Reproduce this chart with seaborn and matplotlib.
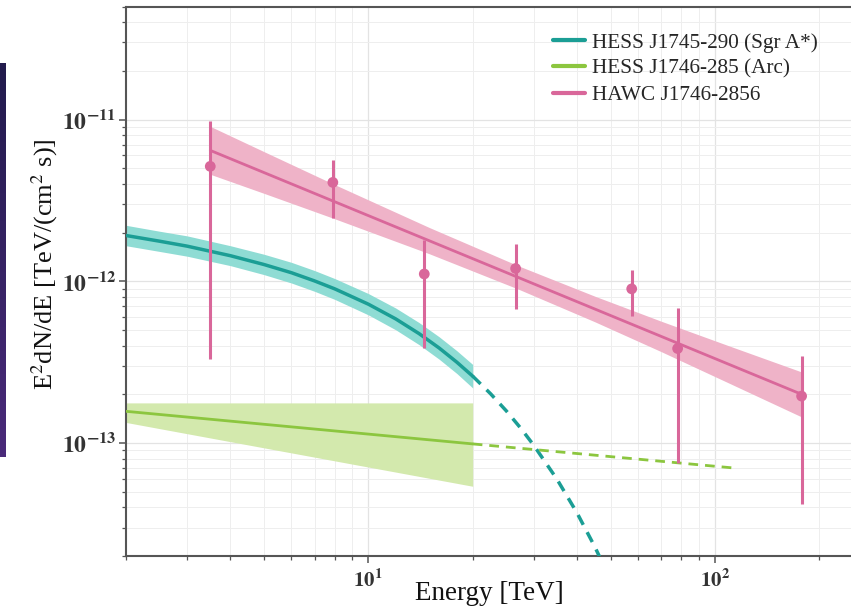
import numpy as np
import pandas as pd
import matplotlib
matplotlib.use("Agg")
import matplotlib.pyplot as plt
import seaborn as sns
from matplotlib.lines import Line2D
from matplotlib.ticker import FixedLocator, FuncFormatter, NullFormatter
from matplotlib.colors import LinearSegmentedColormap

# ---------------- data ----------------
# HAWC J1746-2856 flux points
hawc_E = [3.5, 7.9, 14.5, 26.6, 57.5, 78.0, 177.7]
hawc_F = [5.14e-12, 4.09e-12, 1.11e-12, 1.20e-12, 8.98e-13, 3.84e-13, 1.95e-13]
hawc_hi = [9.8e-12, 5.66e-12, 1.81e-12, 1.69e-12, 1.18e-12, 6.8e-13, 3.47e-13]
hawc_lo = [3.31e-13, 2.47e-12, 3.87e-13, 6.75e-13, 6.14e-13, 7.53e-14, 4.2e-14]

# HAWC power-law fit and band
hawc_fit_E = [3.5, 177.7]
hawc_fit_F = [6.45e-12, 2.0e-13]
hawc_band_E = [3.5, 5, 7.9, 15, 27, 45, 70, 110, 177.7]
hawc_band_up = [9.08e-12, 6.34e-12, 4.01e-12, 2.15e-12, 1.25e-12, 8.09e-13, 5.66e-13, 3.98e-13, 2.75e-13]
hawc_band_lo = [4.59e-12, 3.50e-12, 2.46e-12, 1.48e-12, 8.97e-13, 5.62e-13, 3.67e-13, 2.34e-13, 1.45e-13]

# HESS J1745-290 (Sgr A*) curve and band
sgr_E = [2, 2.5, 3, 4, 5, 6, 7, 8, 10, 12, 14, 16, 18, 20]
sgr_F = [1.92e-12, 1.77e-12, 1.65e-12, 1.44e-12, 1.27e-12, 1.13e-12, 1.005e-12, 8.98e-13,
         7.22e-13, 5.85e-13, 4.75e-13, 3.87e-13, 3.16e-13, 2.59e-13]
sgr_up = [2.22e-12, 2.04e-12, 1.91e-12, 1.66e-12, 1.47e-12, 1.31e-12, 1.165e-12, 1.04e-12,
          8.40e-13, 6.83e-13, 5.56e-13, 4.54e-13, 3.72e-13, 3.06e-13]
sgr_lo = [1.66e-12, 1.53e-12, 1.43e-12, 1.25e-12, 1.10e-12, 9.76e-13, 8.67e-13, 7.73e-13,
          6.20e-13, 5.01e-13, 4.06e-13, 3.30e-13, 2.69e-13, 2.19e-13]
sgr_ext_E = [20, 22.5, 25, 27.5, 30, 35, 40, 45, 50]
sgr_ext_F = [2.59e-13, 2.02e-13, 1.58e-13, 1.236e-13, 9.68e-14, 5.97e-14, 3.69e-14, 2.28e-14, 1.42e-14]

# HESS J1746-285 (Arc)
arc_E = [2, 20]
arc_F = [1.57e-13, 9.87e-14]
arc_up = [1.77e-13, 1.77e-13]
arc_lo = [1.34e-13, 5.4e-14]
arc_ext_E = [20, 113.6]
arc_ext_F = [9.87e-14, 7.0e-14]

labels = ["HESS J1745-290 (Sgr A*)", "HESS J1746-285 (Arc)", "HAWC J1746-2856"]
x_major = [10, 100]
y_major = [1e-13, 1e-12, 1e-11]

# ---------------- style ----------------
teal_line = "#1b9e95"
teal_band = "#8fdcd4"
green_line = "#8cc63f"
green_band = "#d3e9ad"
pink_line = "#d9679a"
pink_band = "#efb3c8"
spine_c = "#555555"

sns.set_theme(style="white")
plt.rcParams["font.family"] = ["Liberation Serif", "DejaVu Serif"]
plt.rcParams["mathtext.fontset"] = "stix"

W, H = 851, 607
fig = plt.figure(figsize=(W / 100, H / 100), dpi=100)
ax_l, ax_r, ax_t, ax_b = 126, 853, 6.6, 556
ax = fig.add_axes([ax_l / W, (H - ax_b) / H, (ax_r - ax_l) / W, (ax_b - ax_t) / H])
ax.set_xscale("log")
ax.set_yscale("log")

# bands
ax.fill_between(sgr_E, sgr_lo, sgr_up, color=teal_band, lw=0, zorder=2)
ax.fill_between(arc_E, arc_lo, arc_up, color=green_band, lw=0, zorder=2)
ax.fill_between(hawc_band_E, hawc_band_lo, hawc_band_up, color=pink_band, lw=0, zorder=2)

# lines
sns.lineplot(x=sgr_E, y=sgr_F, color=teal_line, lw=2.5, ax=ax, zorder=3)
sns.lineplot(x=sgr_ext_E, y=sgr_ext_F, color=teal_line, lw=2.5, ax=ax, zorder=3,
             linestyle=(0, (3.2, 2.4)))
sns.lineplot(x=arc_E, y=arc_F, color=green_line, lw=2.0, ax=ax, zorder=3)
sns.lineplot(x=arc_ext_E, y=arc_ext_F, color=green_line, lw=2.0, ax=ax, zorder=3,
             linestyle=(0, (3.5, 2.5)))
sns.lineplot(x=hawc_fit_E, y=hawc_fit_F, color=pink_line, lw=2.0, ax=ax, zorder=4)

# HAWC points
F = np.array(hawc_F)
ax.errorbar(hawc_E, hawc_F, yerr=[F - np.array(hawc_lo), np.array(hawc_hi) - F],
            fmt="none", ecolor=pink_line, elinewidth=2.2, capsize=0, zorder=5)
sns.scatterplot(x=hawc_E, y=hawc_F, color=pink_line, s=60, edgecolor="none",
                ax=ax, zorder=6)

# axes limits / ticks
ax.set_xlim(2, 250)
ax.set_ylim(2.0e-14, 5.0e-11)
x_minor = [m * 10.0 ** d for d in (0, 1, 2) for m in range(2, 10)
           if 2 <= m * 10.0 ** d <= 250]
y_minor = [m * 10.0 ** d for d in (-14, -13, -12, -11) for m in range(2, 10)
           if 2e-14 <= m * 10.0 ** d <= 5e-11]
ax.xaxis.set_major_locator(FixedLocator(x_major))
ax.xaxis.set_minor_locator(FixedLocator(x_minor))
ax.yaxis.set_major_locator(FixedLocator(y_major))
ax.yaxis.set_minor_locator(FixedLocator(y_minor))
fmt = FuncFormatter(lambda v, _: r"$\mathbf{10^{%d}}$" % int(round(np.log10(v))))
ax.xaxis.set_major_formatter(fmt)
ax.yaxis.set_major_formatter(fmt)
ax.xaxis.set_minor_formatter(NullFormatter())
ax.yaxis.set_minor_formatter(NullFormatter())
ax.tick_params(axis="both", which="major", direction="out", length=5, width=1.1,
               color=spine_c, labelcolor="#333333")
ax.tick_params(axis="both", which="minor", direction="out", length=3, width=0.9,
               color=spine_c)
ax.tick_params(axis="x", which="major", labelsize=15, pad=5, bottom=True)
ax.tick_params(axis="x", which="minor", bottom=True)
ax.tick_params(axis="y", which="major", labelsize=17, pad=2, left=True)
ax.tick_params(axis="y", which="minor", left=True)

ax.grid(True, which="major", color="#e3e3e3", lw=0.9, zorder=0)
ax.grid(True, which="minor", color="#eeeeee", lw=0.7, zorder=0)
ax.set_axisbelow(True)

for s in ["left", "bottom", "top", "right"]:
    ax.spines[s].set_color(spine_c)
    ax.spines[s].set_linewidth(1.5)

ax.set_xlabel("Energy [TeV]", fontsize=19.5, color="#111111")
ax.xaxis.set_label_coords(0.5, -0.045)
ax.set_ylabel(r"E$^2$dN/dE [TeV/(cm$^2$ s)]", fontsize=19, color="#111111")
ax.yaxis.set_label_coords((60 - ax_l) / (ax_r - ax_l), (ax_b - 264) / (ax_b - ax_t))

handles = [Line2D([], [], color=teal_line, lw=3),
           Line2D([], [], color=green_line, lw=3),
           Line2D([], [], color=pink_line, lw=3)]
ax.legend(handles, labels, loc="upper left",
          bbox_to_anchor=((553 - ax_l) / (ax_r - ax_l), (ax_b - 33) / (ax_b - ax_t)),
          frameon=False, fontsize=15.3, handlelength=1.5, handletextpad=0.35,
          labelspacing=0.29, borderpad=0, borderaxespad=0)

# dark strip at left edge of the picture
cmap = LinearSegmentedColormap.from_list("strip", ["#221b4d", "#4a2a7a"])
sax = fig.add_axes([0, (H - 457) / H, 6 / W, (457 - 63) / H])
sax.imshow(np.linspace(0, 1, 100).reshape(-1, 1), aspect="auto", cmap=cmap)
sax.set_axis_off()

fig.savefig("out.png", dpi=100)
